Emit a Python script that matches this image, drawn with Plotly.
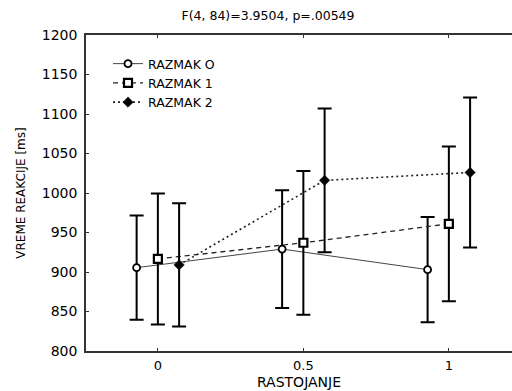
import plotly.graph_objects as go

# ---- data ----
rastojanje = [0, 0.5, 1]
series_names = ["RAZMAK O", "RAZMAK 1", "RAZMAK 2"]
razmak0_mean = [905.5, 929, 903]
razmak0_ci = [66, 74.5, 66.5]
razmak1_mean = [916.5, 937, 961]
razmak1_ci = [83, 91, 98]
razmak2_mean = [909, 1016, 1026]
razmak2_ci = [78, 91, 95]
y_ticks = [800, 850, 900, 950, 1000, 1050, 1100, 1150, 1200]
x_ticks = [0, 0.5, 1]
x_tick_labels = ["0", "0.5", "1"]

means = [razmak0_mean, razmak1_mean, razmak2_mean]
cis = [razmak0_ci, razmak1_ci, razmak2_ci]

# ---- styles ----
offsets = [-0.073, 0.0, 0.073]
line_styles = [dict(color="#444", width=1, dash="solid"),
               dict(color="#222", width=1.3, dash="5px,4px"),
               dict(color="#222", width=1.6, dash="2px,3px")]
marker_styles = [dict(symbol="circle", size=7, color="white", line=dict(color="black", width=1.8)),
                 dict(symbol="square", size=8, color="white", line=dict(color="black", width=2.2)),
                 dict(symbol="diamond", size=8, color="black", line=dict(color="black", width=0.5))]
FONT = "DejaVu Sans"

fig = go.Figure()
for name, m, ci, off, ls, ms in zip(series_names, means, cis, offsets, line_styles, marker_styles):
    fig.add_trace(go.Scatter(
        x=[v + off for v in rastojanje], y=m, name=name,
        mode="lines+markers", line=ls, marker=ms,
        error_y=dict(type="data", array=ci, visible=True, color="black", thickness=2, width=7),
    ))

fig.update_layout(
    width=512, height=391,
    margin=dict(l=86, r=0, t=35, b=40),
    paper_bgcolor="white", plot_bgcolor="white",
    font=dict(family=FONT, size=12, color="black"),
    title=dict(text="F(4, 84)=3.9504, p=.00549", x=268/512, xanchor="center", xref="container",
               y=1 - 16/391, yanchor="middle", yref="container",
               font=dict(family=FONT, size=12.5, color="black")),
    showlegend=True,
    legend=dict(x=(108 - 86)/426, y=1 - (49 - 35)/316, xanchor="left", yanchor="top",
                bgcolor="rgba(0,0,0,0)", font=dict(family=FONT, size=12.5, color="black"),
                tracegroupgap=0, itemwidth=30),
    xaxis=dict(range=[-0.247, 1.217], tickvals=x_ticks, ticktext=x_tick_labels,
               showgrid=False, zeroline=False, showline=True, linecolor="#333", linewidth=1.5,
               mirror="ticks", ticks="inside", ticklen=3, tickcolor="#333",
               tickfont=dict(family=FONT, size=13), ticklabelstandoff=2,
               title=dict(text="RASTOJANJE", font=dict(family=FONT, size=14), standoff=5)),
    yaxis=dict(range=[800, 1200], tickvals=y_ticks,
               showgrid=False, zeroline=False, showline=True, linecolor="#333", linewidth=1.5,
               mirror=False, ticks="inside", ticklen=3, tickcolor="#333",
               tickfont=dict(family=FONT, size=14), ticklabelstandoff=4,
               title=dict(text="VREME REAKCIJE [ms]", font=dict(family=FONT, size=12), standoff=14)),
)

fig.write_html("out.html", config={"displayModeBar": False},
               post_script="document.body.style.margin='0px';")
